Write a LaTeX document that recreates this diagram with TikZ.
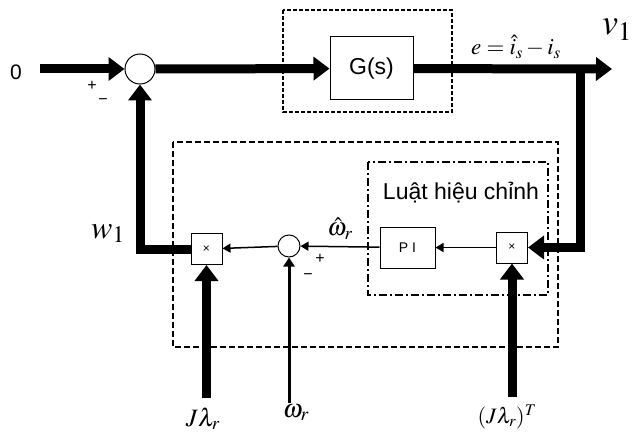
\documentclass[tikz,border=0pt]{standalone}
\usepackage{mathptmx}
\usepackage{fontspec}
\setmainfont{Liberation Sans}
\usetikzlibrary{arrows.meta}
\tikzset{
  sumc/.style={circle,draw,line width=1pt,inner sep=0pt,fill=white},
  blk/.style={draw,line width=1pt,fill=white,inner sep=0pt},
  mulbox/.style={blk,minimum width=31pt,minimum height=31pt,font=\fontsize{12}{12}\selectfont},
  thickarr/.style={line width=9pt,-{Triangle[length=16pt,width=23pt]}},
  thickln/.style={line width=9pt},
  thinarr/.style={line width=1.5pt,-{Triangle[length=8pt,width=9pt]}},
  medarr/.style={line width=3pt,-{Triangle[length=9pt,width=11pt]}},
  lbl/.style={inner sep=0pt},
}
\begin{document}
\begin{tikzpicture}[x=1pt,y=-1pt]
\useasboundingbox (0,0) rectangle (633,436);
% enclosing boxes
\draw[line width=1.6pt,dash pattern=on 4pt off 2pt] (283,10) rectangle (452,112);
\draw[line width=1.2pt,dash pattern=on 6pt off 3pt] (173,142) rectangle (558,347);
\draw[line width=1.6pt,dash pattern=on 8pt off 3pt on 2pt off 3pt] (368,162) rectangle (548,295);
% coordinates
\coordinate (in0) at (40,69);
\coordinate (out) at (612,69);
\coordinate (br) at (580,69);
\coordinate (jl) at (206.5,398);
\coordinate (wr) at (289,403);
\coordinate (jlt) at (512,397);
% nodes
\node[sumc,minimum size=30pt] (s1) at (140,69) {};
\node[blk,minimum width=83pt,minimum height=63pt,font=\fontsize{23}{23}\selectfont] (G) at (371.5,68.5) {G(s)};
\node[mulbox] (m1) at (512,247.5) {×};
\node[blk,minimum width=55pt,minimum height=41pt,font=\fontsize{14}{14}\selectfont] (PI) at (407.5,247.5) {P I};
\node[sumc,minimum size=22pt] (s2) at (289,246) {};
\node[mulbox] (m2) at (206.5,249) {×};
% connectors
\draw[thickarr] (in0) -- (s1);
\draw[thickarr] (s1) -- (G);
\draw[thickarr] (G) -- (out);
\draw[thickarr] (br) |- (m1);
\draw[thinarr] (m1) -- (PI);
\draw[thinarr] (PI) -- (s2);
\draw[thinarr] (s2) -- (m2);
\draw[thickarr] (m2) -| (s1);
\draw[thickarr] (jl) -- (m2);
\draw[medarr] (wr) -- (s2);
\draw[thickarr] (jlt) -- (m1);
% labels
\node[lbl,font=\fontsize{21}{21}\selectfont] (l0) at (16,72) {0};
\node[lbl,font=\fontsize{36}{36}\selectfont,anchor=base west] (lv) at (602,35) {$v_1$};
\node[lbl,font=\fontsize{23}{23}\selectfont,anchor=base] (le) at (516,55) {$e=\hat{i}_s-i_s$};
\node[lbl,font=\fontsize{32}{32}\selectfont,anchor=base west] (lw) at (91,238) {$w_1$};
\node[lbl,font=\fontsize{25}{25}\selectfont,anchor=base] (lwh) at (340,236) {$\hat{\omega}_r$};
\node[lbl,font=\fontsize{16}{16}\selectfont] (p1) at (92,86) {+};
\node[lbl,font=\fontsize{16}{16}\selectfont] (m1s) at (103,102) {−};
\node[lbl,font=\fontsize{16}{16}\selectfont] (p2) at (320,259) {+};
\node[lbl,font=\fontsize{16}{16}\selectfont] (m2s) at (308,277) {−};
\node[lbl,font=\fontsize{23}{23}\selectfont] (lu) at (461,193) {Luật hiệu chỉnh};
\node[lbl,font=\fontsize{25}{25}\selectfont,anchor=base] (lj) at (203,426) {$J\lambda_r$};
\node[lbl,font=\fontsize{26}{26}\selectfont,anchor=base] (lo) at (296,417) {$\omega_r$};
\node[lbl,font=\fontsize{22}{22}\selectfont,anchor=base] (ljt) at (507,423) {$(J\lambda_r)^T$};
\end{tikzpicture}
\end{document}
